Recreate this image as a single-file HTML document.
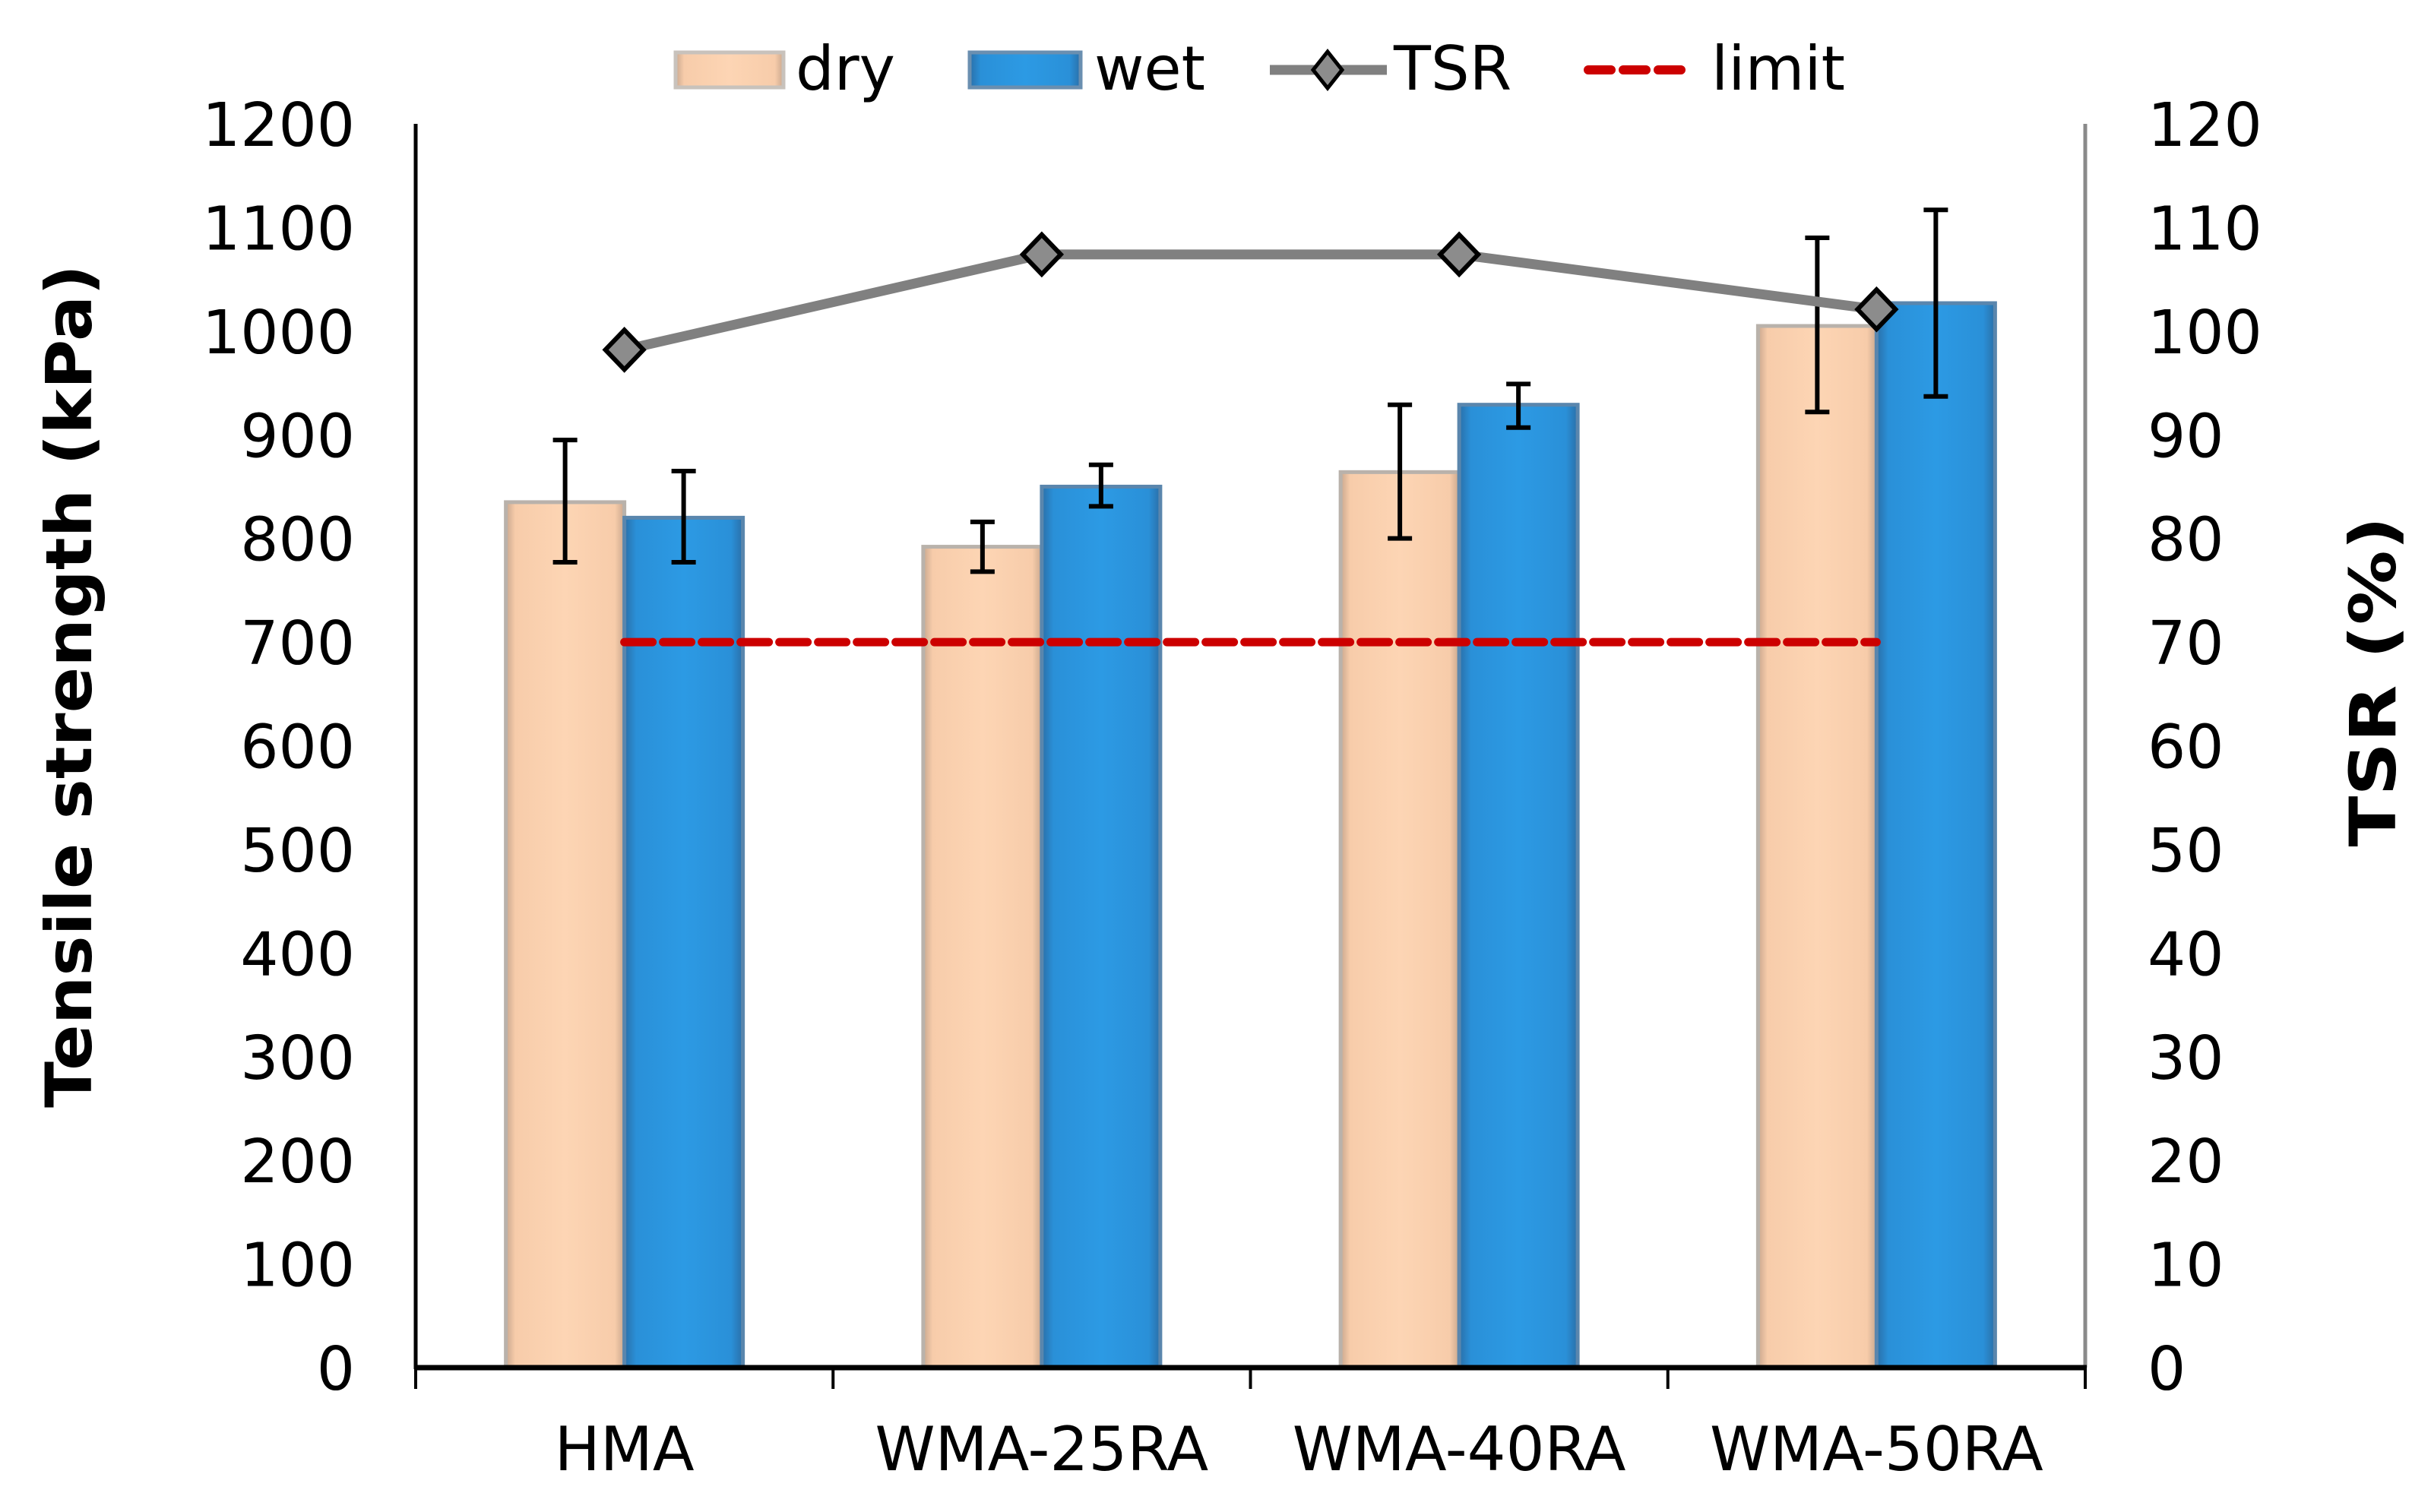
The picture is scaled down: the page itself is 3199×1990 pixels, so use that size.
<!DOCTYPE html>
<html><head><meta charset="utf-8"><style>
html,body{margin:0;padding:0;background:#fff}
svg{display:block}
text{font-family:"DejaVu Sans","Liberation Sans",sans-serif;fill:#000}
</style></head><body>
<svg id="chart" width="3199" height="1990" viewBox="0 0 3199 1990" xmlns="http://www.w3.org/2000/svg">
<defs>
<linearGradient id="gDry" x1="0" x2="1" y1="0" y2="0">
<stop offset="0" stop-color="#c9a78e"/><stop offset="0.08" stop-color="#f7ccaa"/><stop offset="0.5" stop-color="#fdd5b4"/><stop offset="0.92" stop-color="#f7ccaa"/><stop offset="1" stop-color="#c9a78e"/>
</linearGradient>
<linearGradient id="gWet" x1="0" x2="1" y1="0" y2="0">
<stop offset="0" stop-color="#2a6fa8"/><stop offset="0.1" stop-color="#2a90d8"/><stop offset="0.5" stop-color="#2c9ae4"/><stop offset="0.9" stop-color="#2a90d8"/><stop offset="1" stop-color="#2a6fa8"/>
</linearGradient>
</defs>
<g id="plot"></g>
</svg>
<script>
const categories = ["HMA","WMA-25RA","WMA-40RA","WMA-50RA"];
const dryValues = [835, 792, 864, 1005];
const wetValues = [820, 850, 929, 1027];
const dryErrLow = [777, 768, 800, 922];
const dryErrHigh = [895, 816, 929, 1090];
const wetErrLow = [777, 831, 907, 937];
const wetErrHigh = [865, 871, 949, 1117];
const tsrValues = [98.2, 107.4, 107.4, 102.1];
const limitValue = 70;
const leftTicks = [0,100,200,300,400,500,600,700,800,900,1000,1100,1200];
const rightTicks = [0,10,20,30,40,50,60,70,80,90,100,110,120];

const NS = "http://www.w3.org/2000/svg";
const g = document.getElementById('plot');
const X0 = 547, X1 = 2744, Y0 = 1800, YT = 163;
const yL = v => Y0 - (v/1200)*(Y0-YT);
const yR = v => Y0 - (v/120)*(Y0-YT);
const catW = (X1-X0)/categories.length;
const xC = i => X0 + catW*(i+0.5);
const BW = 156;
function mk(tag, attrs, txt){
  const e = document.createElementNS(NS, tag);
  for (const k in attrs) e.setAttribute(k, attrs[k]);
  if (txt !== undefined) e.textContent = txt;
  g.appendChild(e); return e;
}
// bars
categories.forEach((c,i)=>{
  let e = mk('rect',{x:xC(i)-BW, y:yL(dryValues[i]), width:BW, height:Y0-yL(dryValues[i]), fill:'url(#gDry)', stroke:'#b9b2ab', 'stroke-width':5});
  
  
  e = mk('rect',{x:xC(i), y:yL(wetValues[i]), width:BW, height:Y0-yL(wetValues[i]), fill:'url(#gWet)', stroke:'#5a86ad', 'stroke-width':5});
  
  
});
// limit line
let lim = mk('line',{x1:xC(0), x2:xC(3), y1:yR(limitValue), y2:yR(limitValue), stroke:'#cc0000', 'stroke-width':11, 'stroke-dasharray':'37 14', 'stroke-linecap':'round'});


// error bars
function err(x, lo, hi, nm){
  const p = mk('path',{d:`M${x},${yL(lo)}V${yL(hi)}M${x-16},${yL(lo)}H${x+16}M${x-16},${yL(hi)}H${x+16}`, stroke:'#000', 'stroke-width':6, fill:'none'});
  
  
}
categories.forEach((c,i)=>{
  err(xC(i)-BW/2, dryErrLow[i], dryErrHigh[i], 'error-bar-dry-'+c.toLowerCase());
  err(xC(i)+BW/2, wetErrLow[i], wetErrHigh[i], 'error-bar-wet-'+c.toLowerCase());
});
// TSR line
let pts = tsrValues.map((v,i)=>xC(i)+','+yR(v)).join(' ');
let tl = mk('polyline',{points:pts, fill:'none', stroke:'#808080', 'stroke-width':13});


tsrValues.forEach((v,i)=>{
  const x=xC(i), y=yR(v);
  const d = mk('polygon',{points:`${x},${y-26} ${x+25},${y} ${x},${y+26} ${x-25},${y}`, fill:'#8c8c8c', stroke:'#000', 'stroke-width':6});
  
  
});
// axes
let ax = mk('line',{x1:X0,x2:X0,y1:YT,y2:Y0+2,stroke:'#000','stroke-width':5});
 
ax = mk('line',{x1:X1,x2:X1,y1:YT,y2:Y0,stroke:'#8a8a8a','stroke-width':5});
 
ax = mk('line',{x1:X0-2,x2:X1+2,y1:Y0,y2:Y0,stroke:'#000','stroke-width':7});
 
for(let i=0;i<=categories.length;i++){
  const t = mk('line',{x1:X0+catW*i,x2:X0+catW*i,y1:Y0,y2:Y0+28,stroke:'#000','stroke-width':4});
   
}
leftTicks.forEach(v=>{
  const t = mk('text',{x:467,y:yL(v)+29,'text-anchor':'end','font-size':79},String(v));
   
});
rightTicks.forEach(v=>{
  const t = mk('text',{x:2826,y:yR(v)+29,'text-anchor':'start','font-size':79},String(v));
   
});
categories.forEach((c,i)=>{
  const t = mk('text',{x:xC(i),y:1935,'text-anchor':'middle','font-size':80},c);
   
});
// axis titles
let at = mk('text',{x:0,y:0,transform:'translate(120,903) rotate(-90)','text-anchor':'middle','font-size':84,'font-weight':'bold',textLength:1110,lengthAdjust:'spacingAndGlyphs'},'Tensile strength (kPa)');
 
at = mk('text',{x:0,y:0,transform:'translate(3152,897) rotate(-90)','text-anchor':'middle','font-size':84,'font-weight':'bold',textLength:435,lengthAdjust:'spacingAndGlyphs'},'TSR (%)');
 
// legend
let lg = mk('rect',{x:889,y:69,width:142,height:46,fill:'url(#gDry)',stroke:'#c8c2bc','stroke-width':5});
 
lg = mk('text',{x:1047,y:118,'font-size':80},'dry');
 
lg = mk('rect',{x:1276,y:69,width:146,height:46,fill:'url(#gWet)',stroke:'#6a8fb0','stroke-width':5});
 
lg = mk('text',{x:1440,y:118,'font-size':80},'wet');
 
lg = mk('line',{x1:1671,x2:1825,y1:92,y2:92,stroke:'#808080','stroke-width':13});
 
lg = mk('polygon',{points:'1747,68 1766,92 1747,116 1728,92',fill:'#8c8c8c',stroke:'#000','stroke-width':5});
 
lg = mk('text',{x:1834,y:118,'font-size':80},'TSR');
 
lg = mk('line',{x1:2090,x2:2222,y1:92,y2:92,stroke:'#cc0000','stroke-width':12,'stroke-dasharray':'30 16','stroke-linecap':'round'});
 
lg = mk('text',{x:2252,y:118,'font-size':80},'limit');
 
</script>
</body></html>
